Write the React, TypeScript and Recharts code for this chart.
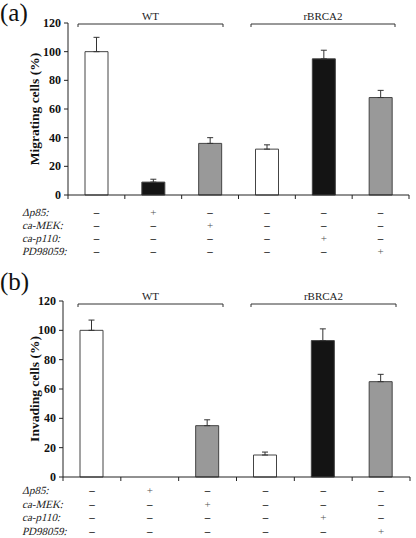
import { BarChart, Bar, XAxis, YAxis, Cell, ErrorBar } from "recharts";

const categories = ["WT", "WT+Δp85", "WT+ca-MEK", "rBRCA2", "rBRCA2+ca-p110", "rBRCA2+PD98059"];
const migrating = [100, 9, 36, 32, 95, 68];
const migratingErr = [10, 2, 4, 3, 6, 5];
const invading = [100, 0, 35, 15, 93, 65];
const invadingErr = [7, 0, 4, 2, 8, 5];
const barFills = ["#ffffff", "#141414", "#999999", "#ffffff", "#141414", "#999999"];
const yTicks = [0, 20, 40, 60, 80, 100, 120];
const treatments = ["Δp85:", "ca-MEK:", "ca-p110:", "PD98059:"];
const treatmentSigns = [
  ["–", "+", "–", "–", "–", "–"],
  ["–", "–", "+", "–", "–", "–"],
  ["–", "–", "–", "–", "+", "–"],
  ["–", "–", "–", "–", "–", "+"],
];
const groups = ["WT", "rBRCA2"];

const SERIF = "Liberation Serif";

interface PanelLayout {
  top: number; // absolute page y
  height: number;
  left: number; // y-axis x
  right: number; // right margin
  plotTop: number;
  plotBottom: number;
  rowY: number[]; // baselines relative to panel
  bracketY: number;
  brackets: [number, number][];
}

// ── Table below the axis, drawn at each category tick ────────────────────────
function TableTick(props: any) {
  const { x, index, layout, band } = props;
  const base = layout.plotBottom;
  return (
    <g>
      <line x1={x - band / 2} x2={x - band / 2} y1={base} y2={base + 4} stroke="#222" />
      {index === categories.length - 1 && (
        <line x1={x + band / 2} x2={x + band / 2} y1={base} y2={base + 4} stroke="#222" />
      )}
      {treatmentSigns.map((row, r) => {
        const plus = row[index] === "+";
        return (
          <text
            key={r}
            x={x}
            y={layout.rowY[r]}
            textAnchor="middle"
            fontFamily={SERIF}
            fontSize={11}
            fontWeight={plus ? 400 : 700}
            fill={plus ? "#555" : "#111"}
          >
            {row[index]}
          </text>
        );
      })}
    </g>
  );
}

function YTick(props: any) {
  const { x, y, payload } = props;
  return (
    <text x={x} y={y} dy={4} textAnchor="end" fontFamily={SERIF} fontSize={12} fontWeight={700} fill="#111">
      {payload.value}
    </text>
  );
}

function Panel({
  tag,
  yLabel,
  values,
  errors,
  layout,
}: {
  tag: string;
  yLabel: string;
  values: number[];
  errors: number[];
  layout: PanelLayout;
}) {
  const data = categories.map((c, i) => ({
    name: c,
    value: values[i],
    err: [0, errors[i]],
    fill: barFills[i],
  }));
  const width = 416;
  const plotW = width - layout.left - layout.right;
  const band = plotW / categories.length;

  return (
    <div style={{ position: "absolute", left: 0, top: layout.top, width, height: layout.height }}>
      <BarChart
        width={width}
        height={layout.height}
        data={data}
        margin={{ top: layout.plotTop, right: layout.right, left: 0, bottom: 0 }}
        barCategoryGap={0}
      >
        <XAxis
          dataKey="name"
          interval={0}
          tickLine={false}
          axisLine={{ stroke: "#222" }}
          height={layout.height - layout.plotBottom}
          tick={(p: any) => <TableTick {...p} layout={layout} band={band} />}
        />
        <YAxis
          width={layout.left}
          domain={[0, 120]}
          ticks={yTicks}
          interval={0}
          tickSize={4}
          tickMargin={3}
          axisLine={{ stroke: "#222" }}
          tickLine={{ stroke: "#222" }}
          tick={(p: any) => <YTick {...p} />}
        />
        <Bar dataKey="value" barSize={23} stroke="#444" strokeWidth={1} isAnimationActive={false}>
          {data.map((d, i) => (
            <Cell key={i} fill={d.fill} />
          ))}
          <ErrorBar dataKey="err" direction="y" width={3} stroke="#333" strokeWidth={1} />
        </Bar>
      </BarChart>

      {/* overlay: panel tag, y label, group brackets, row labels */}
      <svg
        width={width}
        height={layout.height}
        style={{ position: "absolute", left: 0, top: 0, pointerEvents: "none" }}
        fontFamily={SERIF}
      >
        <text x={0} y={21} fontSize={25} fill="#111">
          {tag}
        </text>
        <text
          transform={`translate(39, ${(layout.plotTop + layout.plotBottom) / 2}) rotate(-90)`}
          textAnchor="middle"
          fontSize={13.5}
          fontWeight={700}
          fill="#111"
        >
          {yLabel}
        </text>
        {layout.brackets.map(([x1, x2], i) => (
          <g key={i}>
            <path
              d={`M${x1},${layout.bracketY + 3} V${layout.bracketY} H${x2} V${layout.bracketY + 3}`}
              fill="none"
              stroke="#333"
            />
            <text x={(x1 + x2) / 2} y={layout.bracketY - 4} textAnchor="middle" fontSize={11} fill="#222">
              {groups[i]}
            </text>
          </g>
        ))}
        {treatments.map((t, r) => (
          <text
            key={t}
            transform={`translate(22, ${layout.rowY[r]}) skewX(-14)`}
            fontSize={11}
            fill="#222"
          >
            {t}
          </text>
        ))}
      </svg>
    </div>
  );
}

const layoutA: PanelLayout = {
  top: 0,
  height: 265,
  left: 68,
  right: 7,
  plotTop: 23,
  plotBottom: 195,
  rowY: [215.5, 228.5, 241.5, 254.5],
  bracketY: 24,
  brackets: [
    [78, 223],
    [251, 395],
  ],
};

const layoutB: PanelLayout = {
  top: 269,
  height: 269,
  left: 63,
  right: 6,
  plotTop: 32,
  plotBottom: 208,
  rowY: [225, 238.5, 252, 265.5],
  bracketY: 35,
  brackets: [
    [78, 223],
    [251, 396],
  ],
};

export default function App() {
  return (
    <div
      style={{
        position: "absolute",
        left: 0,
        top: 0,
        width: 416,
        height: 538,
        background: "#fff",
        overflow: "hidden",
      }}
    >
      <Panel tag="(a)" yLabel="Migrating cells (%)" values={migrating} errors={migratingErr} layout={layoutA} />
      <Panel tag="(b)" yLabel="Invading cells (%)" values={invading} errors={invadingErr} layout={layoutB} />
    </div>
  );
}
